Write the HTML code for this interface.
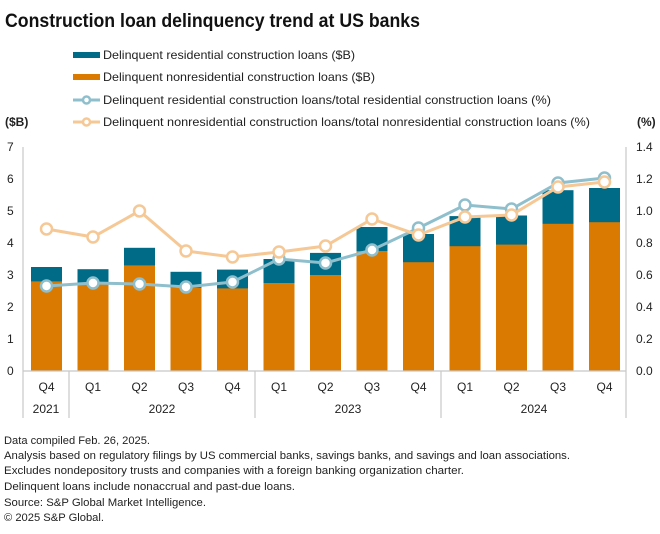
<!DOCTYPE html>
<html><head><meta charset="utf-8"><style>
body{margin:0;background:#fff}
svg{display:block;font-family:"Liberation Sans",sans-serif}
</style></head><body>
<svg width="660" height="534" viewBox="0 0 660 534" xmlns="http://www.w3.org/2000/svg">
<text x="5" y="27" font-size="19" font-weight="bold" fill="#111" textLength="415" lengthAdjust="spacingAndGlyphs">Construction loan delinquency trend at US banks</text>
<g font-size="12" fill="#222">
<rect x="73" y="52" width="27" height="6" fill="#006b87"/>
<text x="103" y="59" textLength="252" lengthAdjust="spacingAndGlyphs">Delinquent residential construction loans ($B)</text>
<rect x="73" y="74" width="27" height="6" fill="#db7a00"/>
<text x="103" y="81" textLength="272" lengthAdjust="spacingAndGlyphs">Delinquent nonresidential construction loans ($B)</text>
<line x1="73" y1="100" x2="100" y2="100" stroke="#8fbfcc" stroke-width="3"/>
<circle cx="86.5" cy="100" r="3.5" fill="#fff" stroke="#8fbfcc" stroke-width="2.5"/>
<text x="103" y="104" textLength="448" lengthAdjust="spacingAndGlyphs">Delinquent residential construction loans/total residential construction loans (%)</text>
<line x1="73" y1="122" x2="100" y2="122" stroke="#f5c895" stroke-width="3"/>
<circle cx="86.5" cy="122" r="3.5" fill="#fff" stroke="#f5c895" stroke-width="2.5"/>
<text x="103" y="126" textLength="487" lengthAdjust="spacingAndGlyphs">Delinquent nonresidential construction loans/total nonresidential construction loans (%)</text>
<text x="5" y="126" font-weight="bold">($B)</text>
<text x="637" y="126" font-weight="bold">(%)</text>
</g>
<g font-size="12" fill="#222">
<text x="7" y="151">7</text><text x="7" y="183">6</text><text x="7" y="215">5</text><text x="7" y="247">4</text>
<text x="7" y="279">3</text><text x="7" y="311">2</text><text x="7" y="343">1</text><text x="7" y="375">0</text>
<text x="636" y="151">1.4</text><text x="636" y="183">1.2</text><text x="636" y="215">1.0</text><text x="636" y="247">0.8</text>
<text x="636" y="279">0.6</text><text x="636" y="311">0.4</text><text x="636" y="343">0.2</text><text x="636" y="375">0.0</text>
</g>
<g stroke="#c8c8c8" stroke-width="1.2">
<line x1="23" y1="147" x2="23" y2="418"/>
<line x1="626" y1="147" x2="626" y2="418"/>
<line x1="69" y1="371" x2="69" y2="418"/>
<line x1="255" y1="371" x2="255" y2="418"/>
<line x1="441" y1="371" x2="441" y2="418"/>
</g>
<g>
<rect x="31" y="267" width="31" height="104" fill="#006b87"/><rect x="31" y="281.4" width="31" height="89.6" fill="#db7a00"/>
<rect x="77.5" y="269.2" width="31" height="101.8" fill="#006b87"/><rect x="77.5" y="283" width="31" height="88" fill="#db7a00"/>
<rect x="124" y="247.8" width="31" height="123.2" fill="#006b87"/><rect x="124" y="265.4" width="31" height="105.6" fill="#db7a00"/>
<rect x="170.5" y="271.8" width="31" height="99.2" fill="#006b87"/><rect x="170.5" y="287.8" width="31" height="83.2" fill="#db7a00"/>
<rect x="217" y="269.6" width="31" height="101.4" fill="#006b87"/><rect x="217" y="288.4" width="31" height="82.6" fill="#db7a00"/>
<rect x="263.5" y="259" width="31" height="112" fill="#006b87"/><rect x="263.5" y="283" width="31" height="88" fill="#db7a00"/>
<rect x="310" y="252.9" width="31" height="118.1" fill="#006b87"/><rect x="310" y="275" width="31" height="96" fill="#db7a00"/>
<rect x="356.5" y="227" width="31" height="144" fill="#006b87"/><rect x="356.5" y="251" width="31" height="120" fill="#db7a00"/>
<rect x="403" y="234" width="31" height="137" fill="#006b87"/><rect x="403" y="262.2" width="31" height="108.8" fill="#db7a00"/>
<rect x="449.5" y="216.1" width="31" height="154.9" fill="#006b87"/><rect x="449.5" y="246.2" width="31" height="124.8" fill="#db7a00"/>
<rect x="496" y="215.5" width="31" height="155.5" fill="#006b87"/><rect x="496" y="244.6" width="31" height="126.4" fill="#db7a00"/>
<rect x="542.5" y="190.2" width="31" height="180.8" fill="#006b87"/><rect x="542.5" y="223.8" width="31" height="147.2" fill="#db7a00"/>
<rect x="589" y="188" width="31" height="183" fill="#006b87"/><rect x="589" y="222.2" width="31" height="148.8" fill="#db7a00"/>
</g>
<line x1="23" y1="371" x2="626" y2="371" stroke="#c8c8c8" stroke-width="1.2"/>
<g fill="none" stroke="#8fbfcc" stroke-width="3">
<polyline points="46.5,286 93,283 139.5,284 186,287 232.5,282 279,259 325.5,263 372,250 418.5,228 465,205 511.5,209 558,183 604.5,178"/>
</g>
<g fill="#fff" stroke="#8fbfcc" stroke-width="2.5">
<circle cx="46.5" cy="286" r="5.5"/><circle cx="93" cy="283" r="5.5"/><circle cx="139.5" cy="284" r="5.5"/><circle cx="186" cy="287" r="5.5"/><circle cx="232.5" cy="282" r="5.5"/><circle cx="279" cy="259" r="5.5"/><circle cx="325.5" cy="263" r="5.5"/><circle cx="372" cy="250" r="5.5"/><circle cx="418.5" cy="228" r="5.5"/><circle cx="465" cy="205" r="5.5"/><circle cx="511.5" cy="209" r="5.5"/><circle cx="558" cy="183" r="5.5"/><circle cx="604.5" cy="178" r="5.5"/>
</g>
<g fill="none" stroke="#f5c895" stroke-width="3">
<polyline points="46.5,229 93,237 139.5,211 186,251 232.5,257 279,252 325.5,246 372,219 418.5,235 465,217 511.5,215 558,187 604.5,182"/>
</g>
<g fill="#fff" stroke="#f5c895" stroke-width="2.5">
<circle cx="46.5" cy="229" r="5.5"/><circle cx="93" cy="237" r="5.5"/><circle cx="139.5" cy="211" r="5.5"/><circle cx="186" cy="251" r="5.5"/><circle cx="232.5" cy="257" r="5.5"/><circle cx="279" cy="252" r="5.5"/><circle cx="325.5" cy="246" r="5.5"/><circle cx="372" cy="219" r="5.5"/><circle cx="418.5" cy="235" r="5.5"/><circle cx="465" cy="217" r="5.5"/><circle cx="511.5" cy="215" r="5.5"/><circle cx="558" cy="187" r="5.5"/><circle cx="604.5" cy="182" r="5.5"/>
</g>
<g font-size="12" fill="#222" text-anchor="middle">
<text x="46.5" y="391">Q4</text><text x="93" y="391">Q1</text><text x="139.5" y="391">Q2</text><text x="186" y="391">Q3</text><text x="232.5" y="391">Q4</text>
<text x="279" y="391">Q1</text><text x="325.5" y="391">Q2</text><text x="372" y="391">Q3</text><text x="418.5" y="391">Q4</text>
<text x="465" y="391">Q1</text><text x="511.5" y="391">Q2</text><text x="558" y="391">Q3</text><text x="604.5" y="391">Q4</text>
<text x="46" y="413">2021</text><text x="162" y="413">2022</text><text x="348" y="413">2023</text><text x="534" y="413">2024</text>
</g>
<g font-size="11" fill="#222">
<text x="4" y="444" textLength="146" lengthAdjust="spacingAndGlyphs">Data compiled Feb. 26, 2025.</text>
<text x="4" y="459" textLength="566" lengthAdjust="spacingAndGlyphs">Analysis based on regulatory filings by US commercial banks, savings banks, and savings and loan associations.</text>
<text x="4" y="474" textLength="460" lengthAdjust="spacingAndGlyphs">Excludes nondepository trusts and companies with a foreign banking organization charter.</text>
<text x="4" y="490" textLength="291" lengthAdjust="spacingAndGlyphs">Delinquent loans include nonaccrual and past-due loans.</text>
<text x="4" y="506" textLength="202" lengthAdjust="spacingAndGlyphs">Source: S&amp;P Global Market Intelligence.</text>
<text x="4" y="521" textLength="100" lengthAdjust="spacingAndGlyphs">© 2025 S&amp;P Global.</text>
</g>
</svg>
</body></html>
